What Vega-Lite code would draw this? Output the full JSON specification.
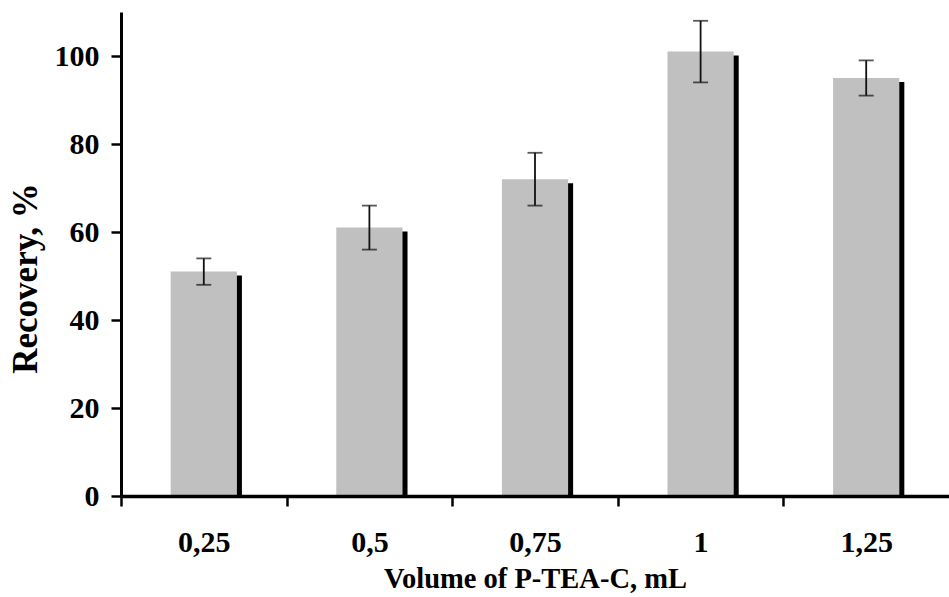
{
  "$schema": "https://vega.github.io/schema/vega-lite/v6.json",
  "width": 828,
  "height": 484,
  "autosize": {"type": "none"},
  "padding": {"left": 121, "top": 12, "right": 0, "bottom": 101},
  "background": "white",
  "config": {
    "view": {"stroke": null},
    "font": "Liberation Serif"
  },
  "data": {
    "values": [
      {"vol": "0,25", "rec": 51, "lo": 48, "hi": 54},
      {"vol": "0,5", "rec": 61, "lo": 56, "hi": 66},
      {"vol": "0,75", "rec": 72, "lo": 66, "hi": 78},
      {"vol": "1", "rec": 101, "lo": 94, "hi": 108},
      {"vol": "1,25", "rec": 95, "lo": 91, "hi": 99}
    ]
  },
  "encoding": {
    "x": {
      "field": "vol",
      "type": "nominal",
      "sort": null,
      "scale": {"paddingInner": 0.6, "paddingOuter": 0.3},
      "axis": {
        "title": "Volume of P-TEA-C, mL",
        "labelAngle": 0,
        "tickOffset": -82.8,
        "labelOffset": 82.8,
        "tickSize": 10,
        "tickWidth": 2.5,
        "tickColor": "black",
        "domainColor": "black",
        "domainWidth": 3.5,
        "labelFont": "Liberation Serif",
        "labelFontWeight": "bold",
        "labelFontSize": 30,
        "labelColor": "black",
        "labelBaseline": "alphabetic",
        "labelPadding": 45,
        "titleFont": "Liberation Serif",
        "titleFontWeight": "bold",
        "titleFontSize": 28.5,
        "titleColor": "black",
        "titleBaseline": "alphabetic",
        "titleY": 91,
        "grid": false,
        "zindex": 2
      }
    }
  },
  "layer": [
    {
      "mark": {"type": "bar", "color": "black", "xOffset": 5, "yOffset": 4, "clip": true},
      "encoding": {
        "y": {
          "field": "rec",
          "type": "quantitative",
          "scale": {"domain": [0, 110], "nice": false},
          "axis": {
            "title": "Recovery, %",
            "values": [0, 20, 40, 60, 80, 100],
            "tickSize": 10,
            "tickWidth": 2.5,
            "tickColor": "black",
            "domainColor": "black",
            "domainWidth": 3,
            "labelFont": "Liberation Serif",
            "labelFontWeight": "bold",
            "labelFontSize": 30,
            "labelColor": "black",
            "labelPadding": 12,
            "titleFont": "Liberation Serif",
            "titleFontWeight": "bold",
            "titleFontSize": 35,
            "titleColor": "black",
            "titleBaseline": "alphabetic",
            "titleAngle": -90,
            "titleX": -85,
            "titleY": 266,
            "grid": false,
            "zindex": 2
          }
        }
      }
    },
    {
      "mark": {"type": "bar", "color": "#c0c0c0"},
      "encoding": {
        "y": {"field": "rec", "type": "quantitative"}
      }
    },
    {
      "mark": {"type": "rule", "color": "#111111", "strokeWidth": 1.8},
      "encoding": {
        "y": {"field": "lo", "type": "quantitative"},
        "y2": {"field": "hi"}
      }
    },
    {
      "mark": {"type": "tick", "color": "#111111", "thickness": 1.8, "size": 15},
      "encoding": {
        "y": {"field": "lo", "type": "quantitative"}
      }
    },
    {
      "mark": {"type": "tick", "color": "#111111", "thickness": 1.8, "size": 15},
      "encoding": {
        "y": {"field": "hi", "type": "quantitative"}
      }
    }
  ]
}
